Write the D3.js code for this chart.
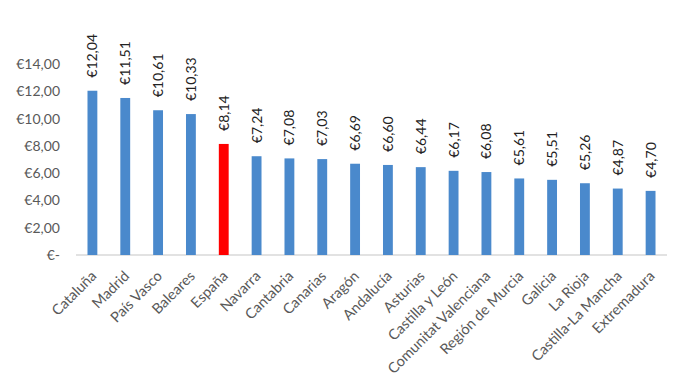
<!DOCTYPE html>
<html>
<head>
<meta charset="utf-8">
<script src="https://cdn.jsdelivr.net/npm/d3@7"></script>
<style>
  body { margin: 0; background: #fff; }
  text { font-family: Lato, "Open Sans", sans-serif; }
</style>
</head>
<body>
<svg id="chart" width="676" height="382"></svg>
<script>
const regions = ["Cataluña", "Madrid", "País Vasco", "Baleares", "España", "Navarra", "Cantabria",
    "Canarias", "Aragón", "Andalucía", "Asturias", "Castilla y León", "Comunitat Valenciana",
    "Región de Murcia", "Galicia", "La Rioja", "Castilla-La Mancha", "Extremadura"];
const prices = [12.04, 11.51, 10.61, 10.33, 8.14, 7.24, 7.08, 7.03, 6.69, 6.60, 6.44, 6.17,
    6.08, 5.61, 5.51, 5.26, 4.87, 4.70];
const yTicks = [0, 2, 4, 6, 8, 10, 12, 14];
const highlight = "España";

const svg = d3.select("#chart");
const margin = {left: 76, right: 9, top: 64, bottom: 127};
const width = 676 - margin.left - margin.right;
const height = 382 - margin.top - margin.bottom;

const x = d3.scaleBand().domain(regions).range([0, width]).paddingInner(0.7).paddingOuter(0.35);
const y = d3.scaleLinear().domain([0, 14]).range([height, 0]);

const g = svg.append("g").attr("transform", `translate(${margin.left},${margin.top})`);

const fmt = (v) => v === 0 ? "€-" : "€" + v.toFixed(2).replace(".", ",");

// y axis labels only, no line
const yAxis = g.append("g")
    .call(d3.axisLeft(y).tickValues(yTicks).tickSize(0).tickPadding(16).tickFormat(fmt));
yAxis.select(".domain").remove();
yAxis.selectAll("text").style("font-size", "14px").style("fill", "#595959");

// baseline
g.append("line")
    .attr("x1", 0).attr("x2", width)
    .attr("y1", y(0)).attr("y2", y(0))
    .attr("stroke", "#d9d9d9").attr("stroke-width", 1.5);

g.selectAll("rect.bar")
    .data(regions)
    .enter()
    .append("rect")
    .attr("class", "bar")
    .attr("x", (d) => x(d))
    .attr("width", x.bandwidth())
    .attr("y", (d, i) => y(prices[i]))
    .attr("height", (d, i) => y(0) - y(prices[i]))
    .attr("fill", (d) => d === highlight ? "#ff0000" : "#4a89cc");

// value labels, rotated
g.selectAll("text.val")
    .data(regions)
    .enter()
    .append("text")
    .attr("class", "val")
    .attr("transform", (d, i) => `translate(${x(d) + x.bandwidth() / 2 + 5},${y(prices[i]) - 13}) rotate(-90)`)
    .attr("text-anchor", "start")
    .style("font-size", "14px")
    .style("fill", "#222")
    .text((d, i) => fmt(prices[i]));

// category labels
g.selectAll("text.cat")
    .data(regions)
    .enter()
    .append("text")
    .attr("class", "cat")
    .attr("transform", (d) => `translate(${x(d) + x.bandwidth() / 2 + 5},${y(0) + 22}) rotate(-45)`)
    .attr("text-anchor", "end")
    .style("font-size", "14.5px")
    .style("fill", "#595959")
    .text((d) => d);
</script>
</body>
</html>
